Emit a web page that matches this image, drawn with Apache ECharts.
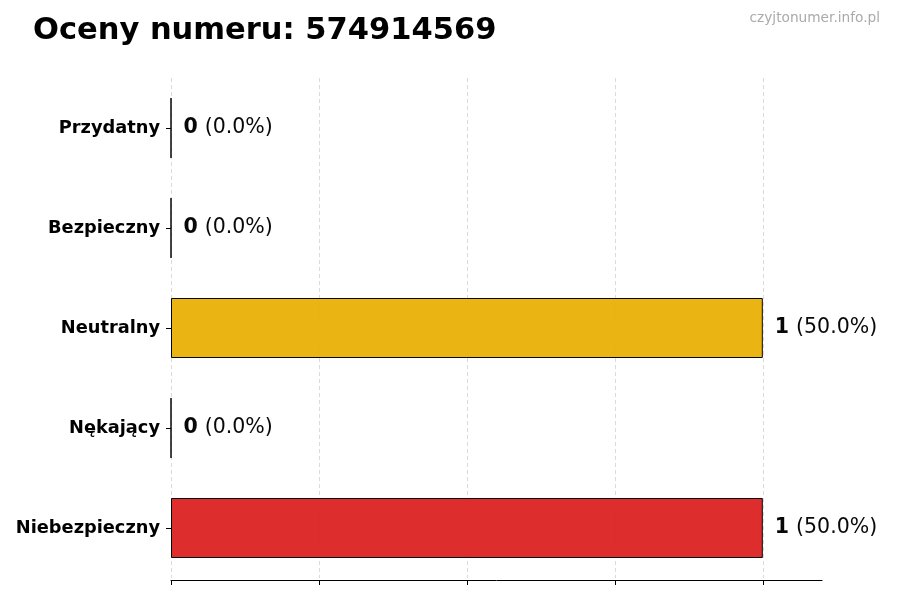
<!DOCTYPE html>
<html><head><meta charset="utf-8">
<script src="https://cdn.jsdelivr.net/npm/echarts@6/dist/echarts.min.js"></script>
<style>html,body{margin:0;padding:0;background:#fff}#c{width:900px;height:600px}</style>
</head><body><div id="c"></div>
<script>
const categories = ['Przydatny','Bezpieczny','Neutralny','Nękający','Niebezpieczny'];
const counts = [0, 0, 1, 0, 1];
const percents = [0.0, 0.0, 50.0, 0.0, 50.0];
const barColors = ['#2e9e44','#2e9e44','#e9b30b','#e07b1a','#dc2626'];
const xTicks = [0, 0.25, 0.5, 0.75, 1.0];
const titleText = 'Oceny numeru: 574914569';
const watermark = 'czyjtonumer.info.pl';

const chart = echarts.init(document.getElementById('c'), null, {renderer:'canvas'});
const font = 'DejaVu Sans';
chart.setOption({
  animation:false,
  textStyle:{fontFamily:font},
  title:[
    {text:titleText,left:28,top:11,textStyle:{fontFamily:font,fontSize:30.5,fontWeight:'bold',color:'#000'}},
    {text:watermark,right:15,top:6,textStyle:{fontFamily:font,fontSize:13.7,fontWeight:'normal',color:'#aaaaaa'}}
  ],
  grid:{left:171,right:78,top:78,bottom:22,containLabel:false},
  xAxis:{type:'value',min:0,max:1.1,interval:0.25,offset:2,
    axisLine:{show:true,lineStyle:{color:'#000',width:1}},
    axisTick:{show:true,length:5,lineStyle:{color:'#000'},customValues:xTicks},
    axisLabel:{show:false},splitLine:{show:false}},
  yAxis:{type:'category',inverse:true,data:categories,
    axisLine:{show:false},
    axisTick:{show:true,alignWithLabel:true,length:5,lineStyle:{color:'#000'}},
    axisLabel:{fontFamily:font,fontSize:17.8,fontWeight:'bold',color:'#000',margin:11}},
  series:[{type:'bar',barWidth:60,
    data:counts.map((v,i)=>({value:v,itemStyle:{color:barColors[i],opacity:0.97}})),
    itemStyle:{borderColor:'#000',borderWidth:1},
    label:{show:true,position:'right',distance:12,
      formatter:p=>'{b|'+counts[p.dataIndex]+'}{n|('+percents[p.dataIndex].toFixed(1)+'%)}',
      rich:{b:{fontFamily:font,fontSize:20.5,fontWeight:'bold',color:'#000'},
            n:{fontFamily:font,fontSize:20.5,color:'#000',padding:[0,0,0,7]}}},
    markLine:{silent:true,symbol:'none',label:{show:false},z:1,
      lineStyle:{color:'#d0d0d0',type:[4,3],width:0.8},
      data:xTicks.map(t=>({xAxis:t}))}
  }]
});
</script></body></html>
